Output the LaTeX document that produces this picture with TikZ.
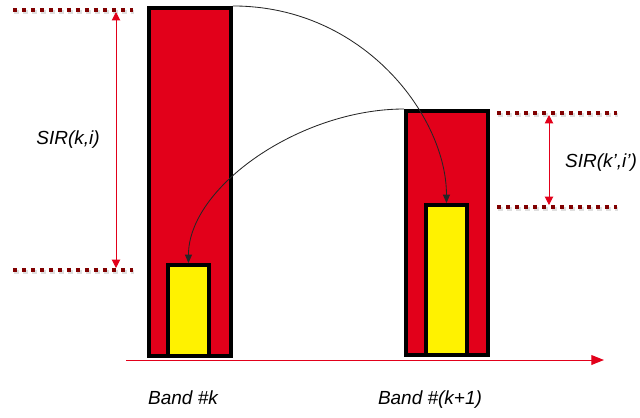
\documentclass[tikz,border=0pt]{standalone}
\usepackage{fontspec}
\setmainfont{Liberation Sans}
\usetikzlibrary{arrows.meta, positioning}
\definecolor{barred}{RGB}{226,0,26}
\definecolor{levelred}{RGB}{128,0,0}
\tikzset{
  bandbar/.style={draw=black, line width=2.8pt, anchor=south west, inner sep=0pt},
  levelline/.style={levelred, line width=3pt, dash pattern=on 3pt off 3.4pt},
  levelshadow/.style={black!25, opacity=0.5, line width=3.4pt, dash pattern=on 3.4pt off 3pt},
  sirarrow/.style={barred, line width=0.7pt, {Triangle[length=6pt,width=6pt]}-{Triangle[length=6pt,width=6pt]}},
  flow/.style={black!85, line width=0.6pt, -{Triangle[length=6pt,width=5pt]}},
  label/.style={font=\fontsize{13.5}{16}\selectfont\itshape}
}
\begin{document}
\begin{tikzpicture}[x=0.025cm, y=-0.025cm]
  \useasboundingbox (0,0) rectangle (640,417);
  % Bars:
  \node[bandbar, fill=barred, minimum width=2.05cm, minimum height=8.7cm] (bandk) at (147,358) {};
  \node[bandbar, fill=barred, minimum width=2.05cm, minimum height=6.1cm] (bandkk) at (404,357) {};
  \node[bandbar, fill=yellow, minimum width=1.025cm, minimum height=2.275cm] (sigk) at (166,358) {};
  \node[bandbar, fill=yellow, minimum width=1.025cm, minimum height=3.75cm] (sigkk) at (424,357) {};
  % Axis:
  \coordinate (axisL) at (126,360);
  \coordinate (axisR) at (604,360);
  \draw[barred, line width=0.7pt, -{Triangle[length=9pt,width=7pt]}] (axisL) -- (axisR);
  % Levels:
  \coordinate (topkL) at (13,10);   \coordinate (topkR) at (133,10);
  \coordinate (botkL) at (13,270);  \coordinate (botkR) at (133,270);
  \coordinate (topkkL) at (497,113); \coordinate (topkkR) at (617,113);
  \coordinate (botkkL) at (497,207); \coordinate (botkkR) at (617,207);
  \foreach \a/\b in {topkL/topkR, botkL/botkR, topkkL/topkkR, botkkL/botkkR} {
    \draw[levelshadow] ([shift={(1,2)}]\a) -- ([shift={(1,2)}]\b);
    \draw[levelline] (\a) -- (\b);
  }
  % SIR arrows:
  \coordinate (sirkT) at (116,12);  \coordinate (sirkB) at (116,268);
  \coordinate (sirkkT) at (549,115); \coordinate (sirkkB) at (549,205);
  \draw[sirarrow] (sirkB) -- (sirkT);
  \draw[sirarrow] (sirkkB) -- (sirkkT);
  % Flows:
  \draw[flow] (bandk.north east) .. controls +(131,0) and +(0,-86) .. (sigkk.north);
  \draw[flow] (bandkk.north west) .. controls +(-104,0) and +(0,-76) .. (sigk.north);
  % Labels:
  \node[label] (sirk) at (68,140) {SIR(k,i)};
  \node[label] (sirkk) at (601,163) {SIR(k’,i’)};
  \node[label] (namek) at (183,398) {Band \#k};
  \node[label] (namekk) at (430,400) {Band \#(k+1)};
\end{tikzpicture}
\end{document}
